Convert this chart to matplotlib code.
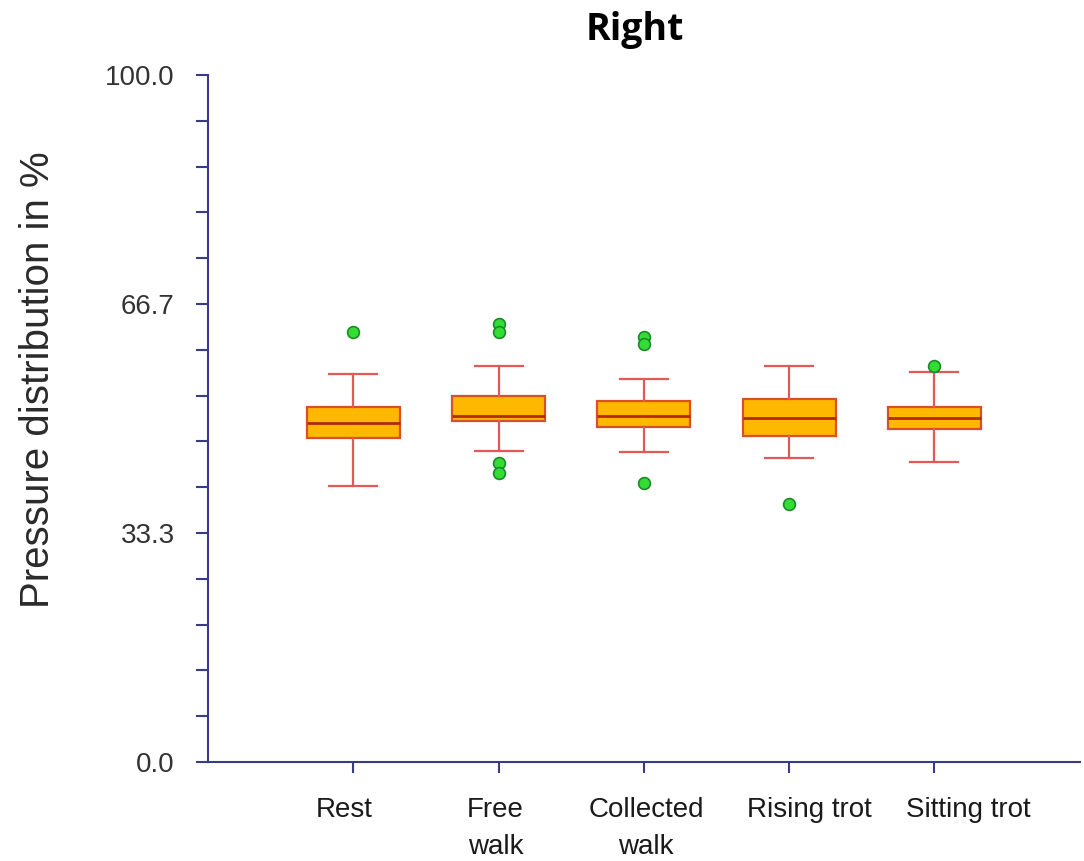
import matplotlib
matplotlib.use('Agg')
import matplotlib.pyplot as plt
from matplotlib.transforms import ScaledTranslation

# data
categories = ['Rest', 'Free\nwalk', 'Collected\nwalk', 'Rising trot', 'Sitting trot']
whisker_low = [40.1, 45.2, 45.1, 44.2, 43.6]
q1 = [47.1, 49.6, 48.8, 47.5, 48.4]
medians = [49.4, 50.4, 50.4, 50.1, 50.1]
q3 = [51.6, 53.2, 52.6, 52.8, 51.6]
whisker_high = [56.5, 57.7, 55.7, 57.6, 56.8]
outliers = [[62.6], [63.7, 62.6, 43.5, 42.0], [61.9, 60.9, 40.6], [37.6], [57.7]]

stats = []
for i in range(len(categories)):
    stats.append({'whislo': whisker_low[i], 'q1': q1[i], 'med': medians[i],
                  'q3': q3[i], 'whishi': whisker_high[i], 'fliers': outliers[i]})

fig = plt.figure(figsize=(10.84, 8.61), dpi=100)
ax = fig.add_axes([0.192, 0.115, 0.804, 0.798])

ax.bxp(stats, positions=range(1, 6), widths=0.64, patch_artist=True,
       boxprops=dict(facecolor='#ffb800', edgecolor='#d8502a', linewidth=1.6),
       medianprops=dict(color='#b02a10', linewidth=2),
       whiskerprops=dict(color='#e05a5a', linewidth=1.6),
       capprops=dict(color='#e05a5a', linewidth=1.6),
       capwidths=0.33,
       flierprops=dict(marker='o', markerfacecolor='#33dd33', markeredgecolor='#1a8a2a',
                       markersize=8.5, markeredgewidth=1.2))

ax.set_xlim(0, 6)
ax.set_ylim(0, 100)
ax.set_xticks(range(1, 6))
ax.set_xticklabels([])
ax.set_yticks([0, 100 / 3, 200 / 3, 100])
ax.set_yticklabels(['0.0', '33.3', '66.7', '100.0'], fontsize=20,
                   family='Liberation Sans', color='#333333')
ax.set_yticks([i * 100 / 15 for i in range(16)], minor=True)

# category labels sit a little off their ticks in the original
shifts = [-9, -3, 2, 20, 34]
for i, (lab, dx) in enumerate(zip(categories, shifts)):
    tr = ax.get_xaxis_transform() + ScaledTranslation(dx / 100, -0.35, fig.dpi_scale_trans)
    ax.text(i + 1, 0, lab, transform=tr, ha='center', va='top', fontsize=20,
            family='Liberation Sans', color='#1a1a1a', linespacing=1.55)

for s in ['top', 'right']:
    ax.spines[s].set_visible(False)
for s in ['left', 'bottom']:
    ax.spines[s].set_color('#3a3a8a')
    ax.spines[s].set_linewidth(1.5)
ax.tick_params(axis='y', which='both', length=9, width=1.5, color='#3a3a8a', pad=15)
ax.tick_params(axis='x', length=8, width=1.5, color='#3a3a8a')

fig.text(38 / 1084, 1 - 380 / 861, 'Pressure distribution in %', rotation=90,
         ha='center', va='center', fontsize=29, family='Liberation Sans', color='#2a2a2a')
fig.text(0.586, 0.965, 'Right', ha='center', va='center', fontsize=27,
         fontweight='bold', family='Open Sans')

fig.savefig('out.png', dpi=100)
